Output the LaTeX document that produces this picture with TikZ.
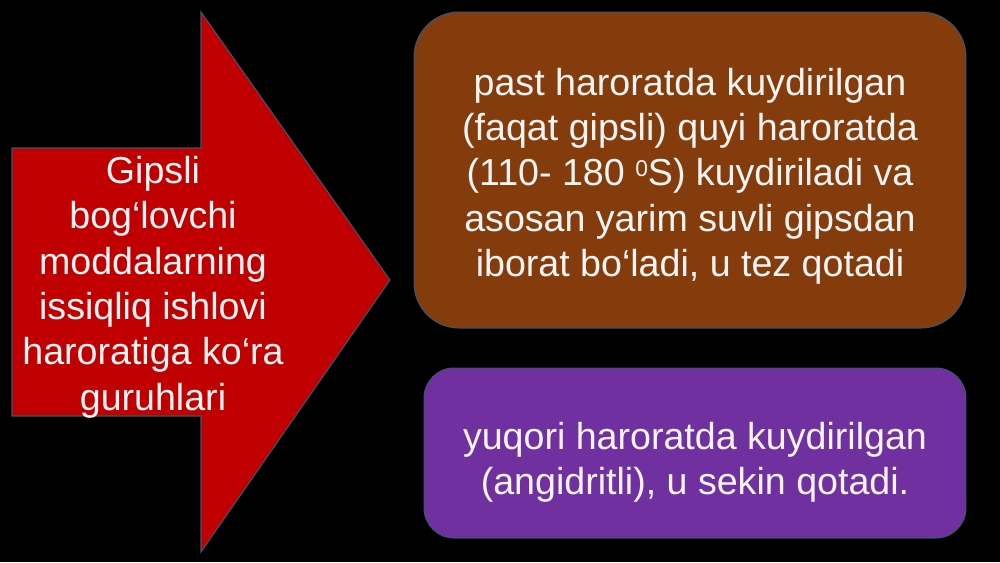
\documentclass[tikz,border=0pt]{standalone}
\usepackage{fontspec}
\setmainfont{Liberation Sans}
\usepackage{tikz}
\usetikzlibrary{positioning, calc}
\definecolor{arrowred}{HTML}{C00000}
\definecolor{boxbrown}{HTML}{843C0C}
\definecolor{boxpurple}{HTML}{7030A0}
\definecolor{edgeblue}{HTML}{41546F}
\definecolor{textwhite}{HTML}{F4F4F4}
\newcommand{\degsup}[1]{{\fontsize{13}{13}\selectfont\raisebox{0.75ex}{#1}}}

\begin{document}
\begin{tikzpicture}[x=0.02cm, y=-0.02cm,
  label/.style={text=textwhite, align=center, font=\fontsize{21.4}{25.8}\selectfont},
  group/.style={rectangle, draw=edgeblue, line width=0.6pt, text=textwhite, align=center,
    font=\fontsize{21.4}{25.8}\selectfont}
]
  \useasboundingbox (0,0) rectangle (1000,562);
  \fill[black] (0,0) rectangle (1000,562);

  % block arrow
  \coordinate (tip) at (390,280);
  \filldraw[fill=arrowred, draw=edgeblue, line width=0.6pt]
    (12,148) -- (201,148) -- (201,12) -- (tip) -- (201,552) -- (201,416) -- (12,416) -- cycle;
  \node[label] (title) at (153,287) {Gipsli\\bog‘lovchi\\moddalarning\\issiqliq ishlovi\\haroratiga ko‘ra\\guruhlari};

  % groups
  \node[group, fill=boxbrown, rounded corners=0.9cm, minimum width=11.04cm, minimum height=6.32cm]
    (low) at (690,170) {};
  \node[label] (lowtext) at (690,176) {past haroratda kuydirilgan\\(faqat gipsli) quyi haroratda\\(110- 180 \degsup{0}S) kuydiriladi va\\asosan yarim suvli gipsdan\\iborat bo‘ladi, u tez qotadi};
  \node[group, fill=boxpurple, rounded corners=0.6cm, minimum width=10.84cm, minimum height=3.4cm]
    (high) at (695,453) {};
  \node[label] (hightext) at (695,462) {yuqori haroratda kuydirilgan\\(angidritli), u sekin qotadi.};
\end{tikzpicture}
\end{document}
